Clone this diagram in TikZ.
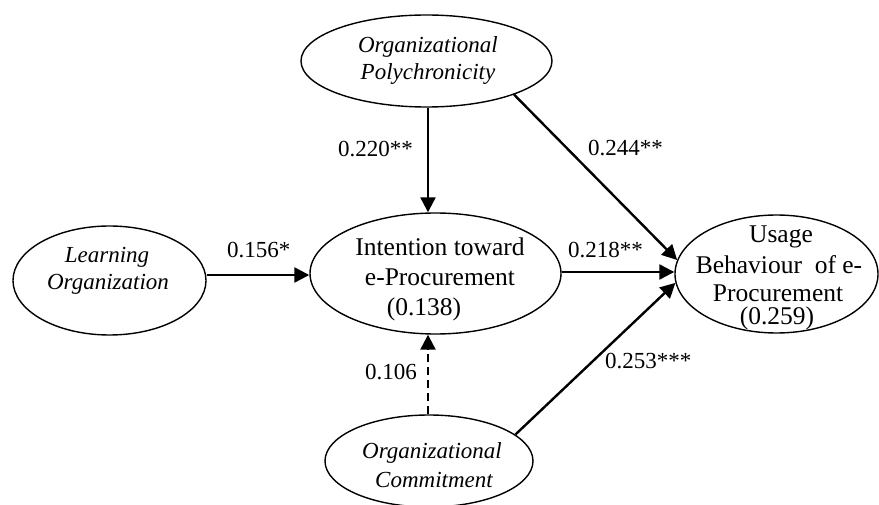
\documentclass[tikz,border=0pt]{standalone}
\usepackage{fontspec}
\setmainfont{Liberation Serif}
\usetikzlibrary{arrows.meta,shapes.geometric}
\begin{document}
\begin{tikzpicture}[x=1pt,y=-1pt,
  latent/.style={draw,ellipse,line width=1.4pt,inner sep=0pt},
  up/.style={inner sep=0pt,anchor=base,font=\fontsize{25.5}{30}\selectfont},
  it/.style={inner sep=0pt,anchor=base,font=\fontsize{23}{27}\selectfont\itshape},
  coef/.style={inner sep=0pt,anchor=base west,font=\fontsize{23}{27}\selectfont},
  path/.style={line width=2.4pt,-{Triangle[length=15pt,width=15pt]}},
  dpath/.style={path,dash pattern=on 8pt off 5pt}]
\useasboundingbox (0,0) rectangle (879,505);
% ellipses
\node[latent,minimum width=251pt,minimum height=92pt] (poly) at (426.5,61) {};
\node[latent,minimum width=193pt,minimum height=109pt] (lo) at (109.5,280.5) {};
\node[latent,minimum width=251pt,minimum height=121pt] (int) at (435.5,273.5) {};
\node[latent,minimum width=203pt,minimum height=118pt] (ub) at (776.5,274) {};
\node[latent,minimum width=208pt,minimum height=92pt] (com) at (429,461) {};
% texts
\node[it] (polyA) at (428,53) {Organizational};
\node[it] (polyB) at (428,80) {Polychronicity};
\node[it] (loA) at (107,263) {Learning};
\node[it] (loB) at (108,290) {Organization};
\node[up] (intA) at (440,256) {Intention toward};
\node[up] (intB) at (440,286) {e-Procurement};
\node[up] (intC) at (424,316) {(0.138)};
\node[up] (ubA) at (781,243) {Usage};
\node[up] (ubB) at (779,274) {Behaviour\ \ of e-};
\node[up] (ubC) at (778,302) {Procurement};
\node[up] (ubD) at (777,325) {(0.259)};
\node[it] (comA) at (432,458) {Organizational};
\node[it] (comB) at (434,487) {Commitment};
% connectors
\draw[path] ([yshift=5.5pt]lo.east) -- ([yshift=-1.5pt]int.west);
\draw[path] ([yshift=1.5pt]int.east) -- ([yshift=2pt]ub.west);
\draw[path] ([xshift=1.5pt]poly.south) -- ([xshift=-7.5pt]int.north);
\draw[dpath] ([xshift=-1pt]com.north) -- ([xshift=-7.5pt]int.south);
\draw[path] (poly.-21) -- (ub.172);
\draw[path] (com.17) -- (ub.185);
% coefficients
\node[coef] (c1) at (227,258) {0.156*};
\node[coef] (c2) at (338,157) {0.220**};
\node[coef] (c3) at (365,380) {0.106};
\node[coef] (c4) at (588,156) {0.244**};
\node[coef] (c5) at (568,258) {0.218**};
\node[coef] (c6) at (605,369) {0.253***};
\end{tikzpicture}
\end{document}
